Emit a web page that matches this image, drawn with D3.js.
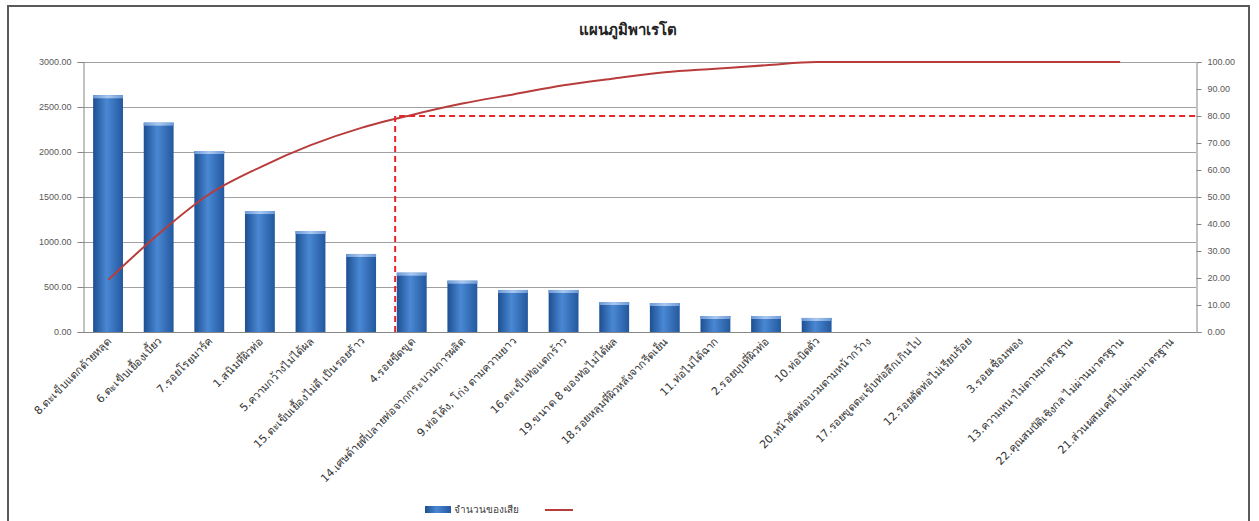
<!DOCTYPE html>
<html>
<head>
<meta charset="utf-8">
<script src="https://cdn.jsdelivr.net/npm/d3@7"></script>
<style>
    body { margin: 0; background: #fff; }
    svg { display: block; font-family: Tahoma, "DejaVu Sans", sans-serif; }
</style>
</head>
<body>
<svg id="chart" width="1259" height="521"></svg>
<script>
/*global d3 */
'use strict';

// chart data //
// ---------- //
var categories = [
    "8.ตะเข็บแตกด้ายหลุด", "6.ตะเข็บเยื้องเบี้ยว", "7.รอยโรยมาร์ค", "1.สนิมที่ผิวท่อ",
    "5.ความกว้างไม่ได้ผล", "15.ตะเข็บเยื้องไม่ดี เป็นรอยร้าว", "4.รอยขีดขูด",
    "14.เศษด้ายที่ปลายท่อจากกระบวนการผลิต", "9.ท่อโค้ง, โก่ง ตามความยาว",
    "16.ตะเข็บท่อแตกร้าว", "19.ขนาด 8 ของท่อไม่ได้ผล", "18.รอยหลุมที่ผิวหลังจากรีดเย็น",
    "11.ท่อไม่ได้ฉาก", "2.รอยบุบที่ผิวท่อ", "10.ท่อบิดตัว", "20.หน้าตัดท่อบวมตามหน้ากว้าง",
    "17.รอยขูดตะเข็บท่อลึกเกินไป", "12.รอยตัดท่อไม่เรียบร้อย", "3.รอยเชื่อมพอง",
    "13.ความหนาไม่ตามมาตรฐาน", "22.คุณสมบัติเชิงกล ไม่ผ่านมาตรฐาน", "21.ส่วนผสมเคมี ไม่ผ่านมาตรฐาน"
];
var defects = [2630, 2326, 2011, 1344, 1122, 867, 659, 570, 467, 467, 333, 322, 178, 178, 156,
    0, 0, 0, 0, 0, 0, 0];
var cumulativePct = [19.3, 36.4, 51.1, 61.0, 69.2, 75.6, 80.4, 84.6, 88.0, 91.4, 93.9, 96.2,
    97.5, 98.8, 100, 100, 100, 100, 100, 100, 100, null];
var leftTicks = [0, 500, 1000, 1500, 2000, 2500, 3000];
var rightTicks = [0, 10, 20, 30, 40, 50, 60, 70, 80, 90, 100];
var cutoffPct = 80;
var cutoffPos = 5.67;   // where the curve crosses 80%, in category units
var title = "แผนภูมิพาเรโต";
var seriesName = "จำนวนของเสีย";

// layout //
// ------ //
var svg = d3.select("#chart"),
    plot = {left: 83, right: 1196, top: 62, bottom: 332},
    x = d3.scaleBand().domain(categories).range([plot.left, plot.right]).paddingInner(0.41).paddingOuter(0.2),
    xPos = d3.scaleLinear().domain([-0.5, categories.length - 0.5]).range([plot.left, plot.right]),
    yLeft = d3.scaleLinear().domain([0, 3000]).range([plot.bottom, plot.top]),
    yRight = d3.scaleLinear().domain([0, 100]).range([plot.bottom, plot.top]),
    fmt = d3.format(".2f");

// gradients for the bars
var defs = svg.append("defs");
var grad = defs.append("linearGradient").attr("id", "barGrad")
    .attr("x1", "0%").attr("x2", "100%").attr("y1", "0%").attr("y2", "0%");
grad.append("stop").attr("offset", "0%").attr("stop-color", "#1d4f91");
grad.append("stop").attr("offset", "45%").attr("stop-color", "#4a88d4");
grad.append("stop").attr("offset", "100%").attr("stop-color", "#23589e");
var capGrad = defs.append("linearGradient").attr("id", "capGrad")
    .attr("x1", "0%").attr("x2", "100%");
capGrad.append("stop").attr("offset", "0%").attr("stop-color", "#6c9ad8");
capGrad.append("stop").attr("offset", "50%").attr("stop-color", "#a9c8ef");
capGrad.append("stop").attr("offset", "100%").attr("stop-color", "#6c9ad8");

// outer frame
svg.append("rect").attr("x", 8).attr("y", 6).attr("width", 1241).attr("height", 520)
    .attr("fill", "#fff").attr("stroke", "#5a5a5a").attr("stroke-width", 2);

// title
svg.append("text").attr("x", 628).attr("y", 35).attr("text-anchor", "middle")
    .attr("font-size", 15).attr("font-weight", "bold").attr("fill", "#222").text(title);

// gridlines
svg.append("g").selectAll("line").data(leftTicks.slice(1)).enter().append("line")
    .attr("x1", plot.left).attr("x2", plot.right)
    .attr("y1", function (d) { return yLeft(d) + 0.5; })
    .attr("y2", function (d) { return yLeft(d) + 0.5; })
    .attr("stroke", "#a0a0a0").attr("stroke-width", 1);

// axes
var axisLeft = svg.append("g").attr("transform", "translate(" + (plot.left + 0.5) + ",0)")
    .call(d3.axisLeft(yLeft).tickValues(leftTicks).tickFormat(fmt).tickSize(6).tickPadding(6));
var axisRight = svg.append("g").attr("transform", "translate(" + (plot.right + 0.5) + ",0)")
    .call(d3.axisRight(yRight).tickValues(rightTicks).tickFormat(fmt).tickSize(5).tickPadding(6));
[axisLeft, axisRight].forEach(function (g) {
    g.select(".domain").attr("stroke", "#868686");
    g.selectAll(".tick line").attr("stroke", "#868686");
    g.selectAll(".tick text").attr("fill", "#595959").attr("font-size", 9);
});

// bars
var bars = svg.append("g").selectAll("g").data(defects.map(function (v, i) {
    return {cat: categories[i], value: v};
}).filter(function (d) { return d.value > 0; })).enter().append("g");
bars.append("rect")
    .attr("x", function (d) { return x(d.cat); })
    .attr("y", function (d) { return yLeft(d.value); })
    .attr("width", x.bandwidth())
    .attr("height", function (d) { return yLeft(0) - yLeft(d.value); })
    .attr("fill", "url(#barGrad)");
bars.append("rect")
    .attr("x", function (d) { return x(d.cat); })
    .attr("y", function (d) { return yLeft(d.value); })
    .attr("width", x.bandwidth())
    .attr("height", 3)
    .attr("fill", "url(#capGrad)");

// baseline
svg.append("line").attr("x1", plot.left).attr("x2", plot.right)
    .attr("y1", plot.bottom + 0.5).attr("y2", plot.bottom + 0.5)
    .attr("stroke", "#868686");

// category labels, rotated
svg.append("g").selectAll("text").data(categories).enter().append("text")
    .attr("transform", function (d) {
        return "translate(" + (x(d) + x.bandwidth() / 2 + 4) + "," + (plot.bottom + 10) + ") rotate(-45)";
    })
    .attr("text-anchor", "end")
    .attr("font-size", 11)
    .attr("fill", "#333")
    .text(function (d) { return d; });

// cumulative line
var line = d3.line()
    .defined(function (d) { return d !== null; })
    .x(function (d, i) { return xPos(i); })
    .y(function (d) { return yRight(d); })
    .curve(d3.curveMonotoneX);
svg.append("path").datum(cumulativePct).attr("d", line)
    .attr("fill", "none").attr("stroke", "#b83c3c").attr("stroke-width", 2);

// 80% cut-off
svg.append("path")
    .attr("d", "M" + xPos(cutoffPos) + "," + yLeft(0) + "V" + yRight(cutoffPct) + "H" + plot.right)
    .attr("fill", "none").attr("stroke", "#e8262a").attr("stroke-width", 2)
    .attr("stroke-dasharray", "6,4");

// legend
var legend = svg.append("g").attr("transform", "translate(425,510)");
legend.append("rect").attr("x", 0).attr("y", -4).attr("width", 26).attr("height", 7)
    .attr("fill", "url(#barGrad)");
legend.append("text").attr("x", 29).attr("y", 3).attr("font-size", 10).attr("fill", "#404040")
    .text(seriesName);
legend.append("line").attr("x1", 120).attr("x2", 148).attr("y1", 0).attr("y2", 0)
    .attr("stroke", "#b83c3c").attr("stroke-width", 2);
</script>
</body>
</html>
